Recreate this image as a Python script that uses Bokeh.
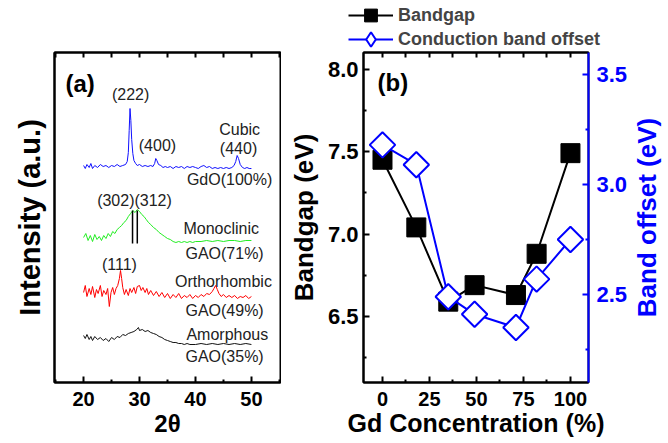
from math import pi
from bokeh.plotting import figure
from bokeh.layouts import row, column
from bokeh.models import (FixedTicker, LinearAxis, Range1d, Label, Legend, LegendItem,
                          PrintfTickFormatter)
from bokeh.embed import file_html
from bokeh.resources import INLINE

FONT = "Liberation Sans"
BLUE = "#0000ff"

# ---------------- panel (a): XRD patterns (offset, arbitrary units) ----------------
tt_gdo = [20.0, 20.3, 20.6, 21.0, 21.3, 21.6, 22.0, 22.5, 23.0, 23.5, 24.0, 24.5, 25.0, 25.5, 26.0, 26.5,
          27.0, 27.5, 27.8, 28.0, 28.15, 28.3, 28.45, 28.6, 28.8, 29.0, 29.3, 29.6, 30.0, 30.5, 31.0, 31.5,
          32.0, 32.4, 32.7, 32.9, 33.1, 33.4, 33.8, 34.2, 34.6, 35.0, 35.5, 36.0, 36.5, 37.0, 37.5, 38.0,
          38.5, 39.0, 39.5, 40.0, 40.5, 41.0, 41.5, 42.0, 42.5, 43.0, 43.5, 44.0, 44.5, 45.0, 45.5, 46.0,
          46.5, 46.9, 47.2, 47.45, 47.7, 48.0, 48.4, 48.8, 49.2, 49.6, 50.0]
int_gdo = [217, 214, 218, 215, 219, 214, 217, 215, 218, 216, 217, 215, 217, 216, 218, 216,
           217, 218, 221, 230, 252, 274, 262, 243, 229, 222, 219, 217, 218, 216, 217, 216,
           217, 216, 219, 224, 222, 218, 217, 215, 216, 215, 216, 214, 216, 215, 216, 214,
           216, 215, 216, 215, 214, 216, 217, 215, 216, 214, 215, 214, 215, 214, 215, 214,
           215, 217, 221, 227, 224, 218, 215, 214, 215, 214, 214]

tt_gao71 = [20.0, 20.4, 20.8, 21.2, 21.6, 22.0, 22.4, 22.8, 23.2, 23.6, 24.0, 24.4, 24.8, 25.2, 25.6, 26.0,
            26.4, 26.8, 27.2, 27.6, 28.0, 28.4, 28.8, 29.2, 29.6, 30.0, 30.4, 30.8, 31.2, 31.6, 32.0, 32.5,
            33.0, 33.5, 34.0, 34.5, 35.0, 35.5, 36.0, 36.5, 37.0, 37.5, 38.0, 38.5, 39.0, 39.5, 40.0, 41.0,
            42.0, 43.0, 44.0, 45.0, 46.0, 47.0, 48.0, 49.0, 50.0]
int_gao71 = [145, 149, 142, 147, 141, 148, 143, 146, 142, 147, 144, 149, 146, 151, 149, 153,
             155, 157, 160, 162, 166, 169, 172, 170, 173, 171, 168, 166, 163, 160, 158, 155,
             153, 150, 148, 146, 144, 143, 141, 140, 141, 140, 141, 140, 141, 140, 141, 141,
             142, 141, 142, 141, 142, 142, 141, 142, 142]

tt_gao49 = [20.0, 20.3, 20.6, 21.0, 21.3, 21.6, 22.0, 22.3, 22.6, 23.0, 23.3, 23.6, 24.0, 24.3, 24.6, 24.9,
            25.2, 25.5, 25.8, 26.1, 26.4, 26.6, 26.8, 27.0, 27.3, 27.6, 28.0, 28.3, 28.6, 29.0, 29.3, 29.6,
            30.0, 30.3, 30.6, 31.0, 31.3, 31.6, 32.0, 32.5, 33.0, 33.5, 34.0, 34.5, 35.0, 35.5, 36.0, 36.5,
            37.0, 37.5, 38.0, 38.5, 39.0, 39.5, 40.0, 40.5, 41.0, 41.5, 42.0, 42.5, 43.0, 43.3, 43.6, 43.9,
            44.2, 44.6, 45.0, 45.5, 46.0, 46.5, 47.0, 47.5, 48.0, 48.5, 49.0, 49.5, 50.0]
int_gao49 = [90, 97, 86, 94, 88, 96, 85, 93, 89, 97, 86, 92, 88, 94, 76, 90,
             95, 88, 94, 97, 104, 112, 104, 95, 88, 93, 87, 94, 90, 95, 89, 96,
             97, 92, 95, 90, 94, 88, 92, 87, 91, 86, 90, 85, 89, 84, 88, 85,
             89, 84, 87, 85, 88, 84, 87, 85, 88, 86, 89, 88, 91, 94, 97, 93,
             89, 86, 88, 85, 87, 85, 87, 84, 86, 85, 87, 84, 86]

tt_gao35 = [20.0, 20.3, 20.6, 21.0, 21.3, 21.6, 22.0, 22.5, 23.0, 23.5, 24.0, 24.5, 25.0, 25.5, 26.0, 26.5,
            27.0, 27.5, 28.0, 28.5, 29.0, 29.5, 29.8, 30.0, 30.5, 31.0, 31.5, 32.0, 32.5, 33.0, 33.5, 34.0,
            34.5, 35.0, 35.5, 36.0, 36.5, 37.0, 37.5, 38.0, 38.5, 39.0, 40.0, 41.0, 42.0, 43.0, 44.0, 45.0,
            46.0, 47.0, 48.0, 49.0, 50.0]
int_gao35 = [47, 44, 48, 43, 46, 42, 46, 43, 45, 42, 44, 41, 45, 43, 46, 45,
             48, 47, 49, 50, 51, 53, 55, 52, 53, 51, 52, 50, 49, 48, 46, 45,
             43, 42, 41, 40, 40, 39, 39, 38, 39, 38, 38, 39, 38, 39, 38, 39,
             38, 39, 38, 39, 38]

# monoclinic (302)/(312) reference lines
mono_peaks = [28.75, 29.6]
mono_low = [139, 139]
mono_high = [172, 172]

# ---------------- panel (b) ----------------
gd_conc = [0, 18, 35, 49, 71, 82, 100]
bandgap = [7.45, 7.04, 6.59, 6.69, 6.63, 6.88, 7.49]
band_offset = [3.18, 3.09, 2.49, 2.41, 2.35, 2.57, 2.75]

xa_ticks = [20, 30, 40, 50]
xa_minor = [15, 25, 35, 45, 55]
xb_ticks = [0, 25, 50, 75, 100]
xb_minor = [12.5, 37.5, 62.5, 87.5]
yb_ticks = [6.5, 7.0, 7.5, 8.0]
yb_minor = [6.25, 6.75, 7.25, 7.75]
yr_ticks = [2.5, 3.0, 3.5]
yr_minor = [2.25, 2.75, 3.25]


def style_axis(ax, size="20px", color="black", standoff=9):
    ax.axis_line_width = 2
    ax.axis_line_color = color
    ax.major_tick_in = 6
    ax.major_tick_out = 0
    ax.minor_tick_in = 3
    ax.minor_tick_out = 0
    ax.major_tick_line_width = 2
    ax.minor_tick_line_width = 2
    ax.major_tick_line_color = color
    ax.minor_tick_line_color = color
    ax.major_label_text_font = FONT
    ax.major_label_text_font_style = "bold"
    ax.major_label_text_color = color
    ax.major_label_standoff = standoff
    ax.major_label_text_font_size = size


def title_axis(ax, text, size, standoff, color="black"):
    ax.axis_label = text
    ax.axis_label_text_font = FONT
    ax.axis_label_text_font_style = "bold"
    ax.axis_label_text_font_size = size
    ax.axis_label_text_color = color
    ax.axis_label_standoff = standoff


def mirror_axis(positions):
    # tick-only axis (no labels) used on the top edge
    ax = LinearAxis(ticker=FixedTicker(ticks=[], minor_ticks=positions))
    ax.axis_line_width = 2
    ax.major_tick_in = 0
    ax.major_tick_out = 0
    ax.minor_tick_in = 5
    ax.minor_tick_out = 0
    ax.minor_tick_line_width = 2
    ax.major_label_standoff = 0
    return ax


# ---------- figure (a) ----------
pa = figure(width=281, height=393, x_range=Range1d(14.8, 55.2), y_range=Range1d(0, 330),
            output_backend="svg", toolbar_location=None,
            min_border_left=54, min_border_right=1, min_border_top=2, min_border_bottom=61)
pa.xgrid.visible = False
pa.ygrid.visible = False
pa.outline_line_color = "black"
pa.outline_line_width = 2
pa.xaxis.ticker = FixedTicker(ticks=xa_ticks, minor_ticks=xa_minor)
style_axis(pa.xaxis[0])
title_axis(pa.xaxis[0], "2θ", "24px", 1)
pa.yaxis.ticker = FixedTicker(ticks=[], minor_ticks=[])
pa.yaxis.axis_line_width = 2
pa.yaxis.major_label_standoff = 0
title_axis(pa.yaxis[0], "Intensity (a.u.)", "29px", 9)
pa.add_layout(mirror_axis(sorted(xa_ticks + xa_minor)), "above")

pa.line(tt_gao35, int_gao35, line_color="#111111", line_width=1)
pa.line(tt_gao49, int_gao49, line_color="#ff0000", line_width=1)
pa.line(tt_gao71, int_gao71, line_color="#22ee22", line_width=1)
pa.line(tt_gdo, int_gdo, line_color="#1010ff", line_width=1)
pa.segment(mono_peaks, mono_low, mono_peaks, mono_high, line_color="black", line_width=1.5)

a_texts = [("(222)", 28.4, 288), ("(400)", 33.2, 237), ("Cubic", 47.9, 253), ("(440)", 47.7, 234),
           ("GdO(100%)", 46.1, 203), ("(302)(312)", 29.1, 182), ("Monoclinic", 44.6, 154),
           ("GAO(71%)", 45.2, 129), ("(111)", 26.4, 118), ("Orthorhombic", 45.0, 101),
           ("GAO(49%)", 45.2, 72), ("Amorphous", 45.7, 48), ("GAO(35%)", 45.2, 26)]
for t, x, y in a_texts:
    pa.add_layout(Label(x=x, y=y, text=t, text_align="center", text_baseline="middle",
                        text_font=FONT, text_font_size="16px", text_color="#222222"))

pa.add_layout(Label(x=11, y=299, x_units="screen", y_units="screen", text="(a)",
                    text_align="left", text_baseline="middle", text_font=FONT,
                    text_font_style="bold", text_font_size="24px", text_color="black"))

# ---------- figure (b) ----------
pb = figure(width=349, height=393, x_range=Range1d(-10.1, 109.6), y_range=Range1d(6.1, 8.1),
            output_backend="svg", toolbar_location=None,
            min_border_left=82, min_border_right=42, min_border_top=2, min_border_bottom=61)
pb.extra_y_ranges = {"cbo": Range1d(2.1, 3.6)}
pb.xgrid.visible = False
pb.ygrid.visible = False
pb.outline_line_color = "black"
pb.outline_line_width = 2
pb.xaxis.ticker = FixedTicker(ticks=xb_ticks, minor_ticks=xb_minor)
pb.yaxis.ticker = FixedTicker(ticks=yb_ticks, minor_ticks=yb_minor)
pb.yaxis.formatter = PrintfTickFormatter(format="%.1f")
style_axis(pb.xaxis[0])
title_axis(pb.xaxis[0], "Gd Concentration (%)", "25px", 0)
style_axis(pb.yaxis[0], size="22px", standoff=5)
title_axis(pb.yaxis[0], "Bandgap (eV)", "26px", 6)
pb.add_layout(mirror_axis(sorted(xb_ticks + xb_minor)), "above")
right_b = LinearAxis(y_range_name="cbo", ticker=FixedTicker(ticks=yr_ticks, minor_ticks=yr_minor),
                     formatter=PrintfTickFormatter(format="%.1f"))
style_axis(right_b, size="22px", color=BLUE, standoff=8)
pb.add_layout(right_b, "right")

pb.line(gd_conc, bandgap, line_color="black", line_width=2)
pb.scatter(gd_conc, bandgap, marker="square", size=19, fill_color="black", line_color="black")
pb.line(gd_conc, band_offset, y_range_name="cbo", line_color=BLUE, line_width=2)
pb.scatter(gd_conc, band_offset, y_range_name="cbo", marker="square", angle=pi / 4, size=18,
           fill_color="white", line_color=BLUE, line_width=2)

pb.add_layout(Label(x=14, y=300, x_units="screen", y_units="screen", text="(b)",
                    text_align="left", text_baseline="middle", text_font=FONT,
                    text_font_style="bold", text_font_size="24px", text_color="black"))

# ---------- title strip for the right (band offset) axis, reading bottom-to-top ----------
pr = figure(width=38, height=393, x_range=Range1d(0, 1), y_range=Range1d(2.1, 3.6),
            x_axis_type=None, output_backend="svg", toolbar_location=None,
            min_border_left=34, min_border_right=0, min_border_top=2, min_border_bottom=61)
pr.xgrid.visible = False
pr.ygrid.visible = False
pr.outline_line_color = None
pr.yaxis.ticker = FixedTicker(ticks=[], minor_ticks=[])
pr.yaxis.axis_line_color = None
pr.yaxis.major_label_standoff = 0
title_axis(pr.yaxis[0], "Band offset (eV)", "26px", 7, color=BLUE)

# ---------- legend strip across the top ----------
pl = figure(width=668, height=50, x_range=Range1d(1000, 1001), y_range=Range1d(1000, 1001),
            x_axis_type=None, y_axis_type=None, output_backend="svg", toolbar_location=None,
            min_border=0)
pl.xgrid.visible = False
pl.ygrid.visible = False
pl.outline_line_color = None
lg_bg_line = pl.line(gd_conc, bandgap, line_color="black", line_width=2)
lg_bg_pts = pl.scatter(gd_conc, bandgap, marker="square", fill_color="black", line_color="black")
lg_cb_line = pl.line(gd_conc, band_offset, line_color=BLUE, line_width=2)
lg_cb_pts = pl.scatter(gd_conc, band_offset, marker="diamond",
                       fill_color="white", line_color=BLUE, line_width=2)
legend_style = dict(glyph_width=45, spacing=0, padding=0, margin=0, label_standoff=5,
                    background_fill_alpha=0, border_line_alpha=0,
                    label_text_font=FONT, label_text_font_style="bold", label_text_font_size="18px")
pl.add_layout(Legend(items=[LegendItem(label="Bandgap", renderers=[lg_bg_line, lg_bg_pts])],
                     location=(348, 19), glyph_height=32, label_height=32, **legend_style))
pl.add_layout(Legend(items=[LegendItem(label="Conduction band offset",
                                       renderers=[lg_cb_line, lg_cb_pts])],
                     location=(348, -7), glyph_height=36, label_height=36, **legend_style))

layout = column(pl, row(pa, pb, pr))
open("out.html", "w").write(file_html(layout, INLINE))
